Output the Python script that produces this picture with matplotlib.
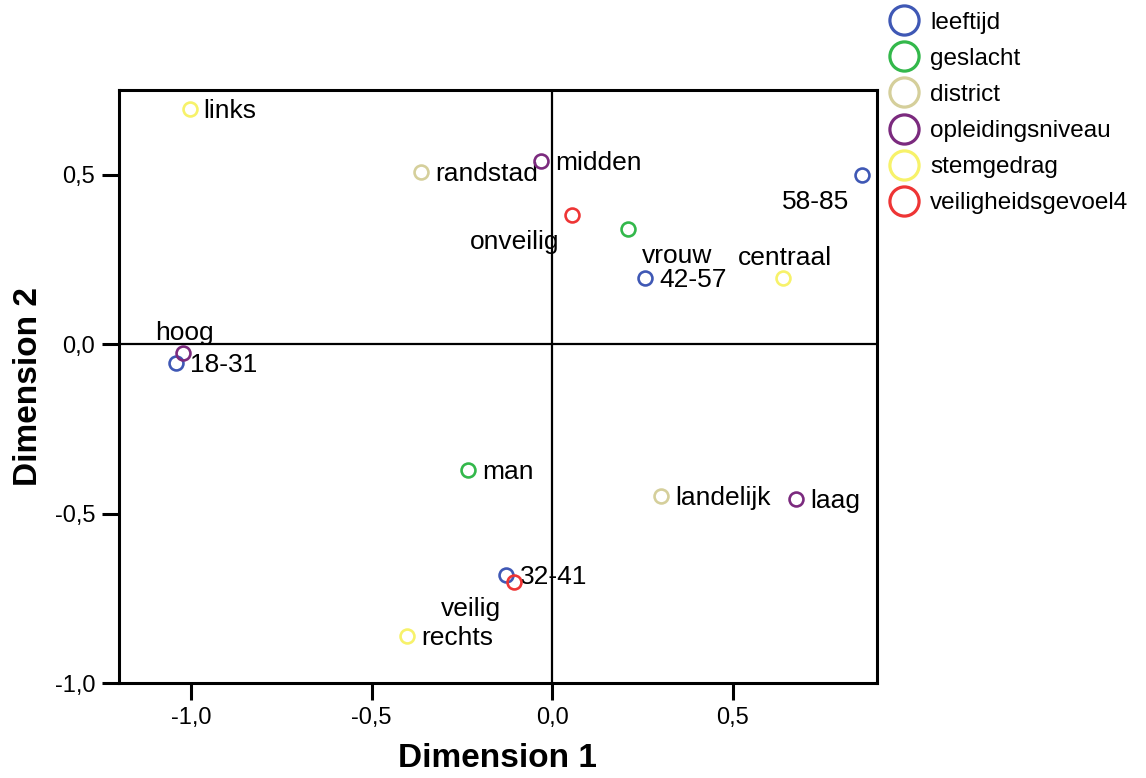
import matplotlib
matplotlib.use("Agg")
from matplotlib import pyplot as plt
from matplotlib.lines import Line2D

plt.rcParams['font.family'] = ['Liberation Sans', 'DejaVu Sans']

# ---- data: category points (Dimension 1, Dimension 2)
labels = ['18-31', '32-41', '42-57', '58-85',
          'man', 'vrouw',
          'randstad', 'landelijk',
          'hoog', 'midden', 'laag',
          'links', 'centraal', 'rechts',
          'veilig', 'onveilig']
dim1 = [-1.042, -0.128, 0.258, 0.859,
        -0.233, 0.211,
        -0.363, 0.302,
        -1.023, -0.030, 0.676,
        -1.004, 0.640, -0.402,
        -0.105, 0.055]
dim2 = [-0.055, -0.680, 0.196, 0.500,
        -0.370, 0.341,
        0.509, -0.447,
        -0.025, 0.541, -0.456,
        0.694, 0.196, -0.860,
        -0.701, 0.382]
groups = ['leeftijd'] * 4 + ['geslacht'] * 2 + ['district'] * 2 + \
         ['opleidingsniveau'] * 3 + ['stemgedrag'] * 3 + ['veiligheidsgevoel4'] * 2

group_names = ['leeftijd', 'geslacht', 'district', 'opleidingsniveau',
               'stemgedrag', 'veiligheidsgevoel4']
group_colors = ['#3f58b5', '#33b84b', '#d5cf9b', '#7b2a7e', '#f7f26a', '#ee3535']

xticks = [-1.0, -0.5, 0.0, 0.5]
yticks = [-1.0, -0.5, 0.0, 0.5]

# ---- where each label sits relative to its marker
place = {'18-31': 'r', '32-41': 'r', '42-57': 'r', '58-85': 'bl',
         'man': 'r', 'vrouw': 'br', 'randstad': 'r', 'landelijk': 'r',
         'hoog': 'a', 'midden': 'r', 'laag': 'r',
         'links': 'r', 'centraal': 'a', 'rechts': 'r',
         'veilig': 'bl', 'onveilig': 'bl'}
offsets = {'r': (14, 0, 'left'), 'bl': (-13, -25, 'right'),
           'br': (14, -25, 'left'), 'a': (2, 22, 'center')}

fig = plt.figure(figsize=(11.46, 7.78), dpi=100)
ax = fig.add_axes([0.1038, 0.1221, 0.6614, 0.7622])

ax.axhline(0, color='black', lw=1.6, zorder=3)
ax.axvline(0, color='black', lw=1.6, zorder=3)

for g, c in zip(group_names, group_colors):
    xs = [x for x, gg in zip(dim1, groups) if gg == g]
    ys = [y for y, gg in zip(dim2, groups) if gg == g]
    ax.plot(xs, ys, 'o', ms=10, mfc='none', mec=c, mew=1.9, zorder=4)

for lab, x, y in zip(labels, dim1, dim2):
    dx, dy, ha = offsets[place[lab]]
    ax.annotate(lab, (x, y), xytext=(dx, dy), textcoords='offset pixels',
                ha=ha, va='center_baseline', fontsize=19, zorder=2)

ax.set_xlim(-1.2, 0.9)
ax.set_ylim(-1.0, 0.75)
ax.set_xticks(xticks)
ax.set_yticks(yticks)
ax.set_xticklabels(['{:.1f}'.format(t).replace('.', ',') for t in xticks])
ax.set_yticklabels(['{:.1f}'.format(t).replace('.', ',') for t in yticks])
ax.tick_params(direction='out', length=12, width=2.2, labelsize=17, pad=5)
for s in ax.spines.values():
    s.set_linewidth(2.2)

ax.set_xlabel('Dimension 1', fontsize=24, fontweight='bold', labelpad=10)
ax.set_ylabel('Dimension 2', fontsize=24, fontweight='bold', labelpad=8)

handles = [Line2D([], [], ls='none', marker='o', ms=21, mfc='none', mec=c, mew=2.3)
           for c in group_colors]
fig.legend(handles, group_names, loc='upper left', bbox_to_anchor=(0.7782, 0.985),
           frameon=False, fontsize=17.5, handlelength=1.0, handletextpad=0.57,
           labelspacing=0.58, borderpad=0, borderaxespad=0)

fig.savefig('out.png', dpi=100)
